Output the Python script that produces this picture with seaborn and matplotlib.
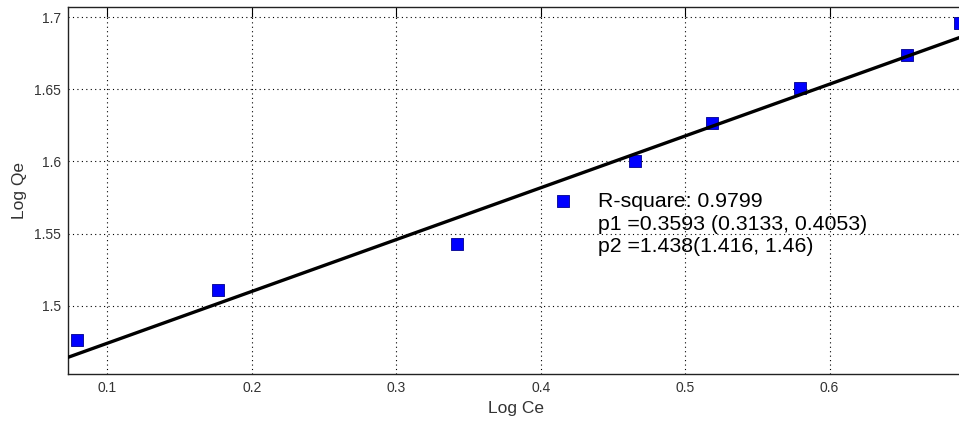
import matplotlib
matplotlib.use("Agg")
import matplotlib.pyplot as plt
import seaborn as sns
import numpy as np
import pandas as pd

# Data
log_ce = [0.079, 0.1765, 0.342, 0.4155, 0.4653, 0.5186, 0.5797, 0.6536, 0.6903]
log_qe = [1.4762, 1.5109, 1.5428, 1.5726, 1.6003, 1.6267, 1.6512, 1.6740, 1.6960]
p1 = 0.3593
p2 = 1.438
x_limits = [0.0728, 0.6931]
y_limits = [1.4526, 1.7071]
x_ticks = [0.1, 0.2, 0.3, 0.4, 0.5, 0.6]
y_ticks = [1.5, 1.55, 1.6, 1.65, 1.7]
x_ticklabels = ["0.1", "0.2", "0.3", "0.4", "0.5", "0.6"]
y_ticklabels = ["1.5", "1.55", "1.6", "1.65", "1.7"]
fit_lines = ["R-square: 0.9799",
             "p1 =0.3593 (0.3133, 0.4053)",
             "p2 =1.438(1.416, 1.46)"]

sns.set_style("white")
plt.rcParams["font.family"] = ["Liberation Sans", "DejaVu Sans"]

W, H = 959, 423
fig = plt.figure(figsize=(W / 100, H / 100), dpi=100)
ax = fig.add_axes([68 / W, (H - 374) / H, (964 - 68) / W, (374 - 7) / H])

df = pd.DataFrame({"Log Ce": log_ce, "Log Qe": log_qe})
sns.scatterplot(data=df, x="Log Ce", y="Log Qe", marker="s", s=80,
                color="#0000FF", edgecolor="#00008C", linewidth=0.6,
                ax=ax, zorder=3)

fit_x = np.array(x_limits)
fit_df = pd.DataFrame({"x": fit_x, "y": p1 * fit_x + p2})
sns.lineplot(data=fit_df, x="x", y="y", color="black", linewidth=2.4,
             ax=ax, zorder=4)

ax.set_xlim(x_limits)
ax.set_ylim(y_limits)
ax.set_xticks(x_ticks)
ax.set_xticklabels(x_ticklabels)
ax.set_yticks(y_ticks)
ax.set_yticklabels(y_ticklabels)
ax.set_xlabel("Log Ce", fontsize=12.5, color="#333333", labelpad=4)
ax.set_ylabel("Log Qe", fontsize=12.5, color="#333333", labelpad=5)

ax.grid(True, color="black", linestyle=(0, (1, 3)), linewidth=0.8)
ax.tick_params(direction="in", length=7, width=0.8, top=True, right=False,
               labelsize=10, labelcolor="#333333", colors="black", pad=5)
ax.tick_params(axis="both", labelcolor="#333333")
for side in ["left", "bottom", "top"]:
    ax.spines[side].set_color("#222222")
    ax.spines[side].set_linewidth(1.0)
ax.spines["right"].set_visible(False)

# Fit summary text (three lines)
text_x = 0.4397
text_y = [1.5720, 1.5561, 1.5408]
for line, ty in zip(fit_lines, text_y):
    ax.text(text_x, ty, line, fontsize=15.3, va="center", ha="left",
            color="black", zorder=5)

fig.savefig("out.png", dpi=100)
